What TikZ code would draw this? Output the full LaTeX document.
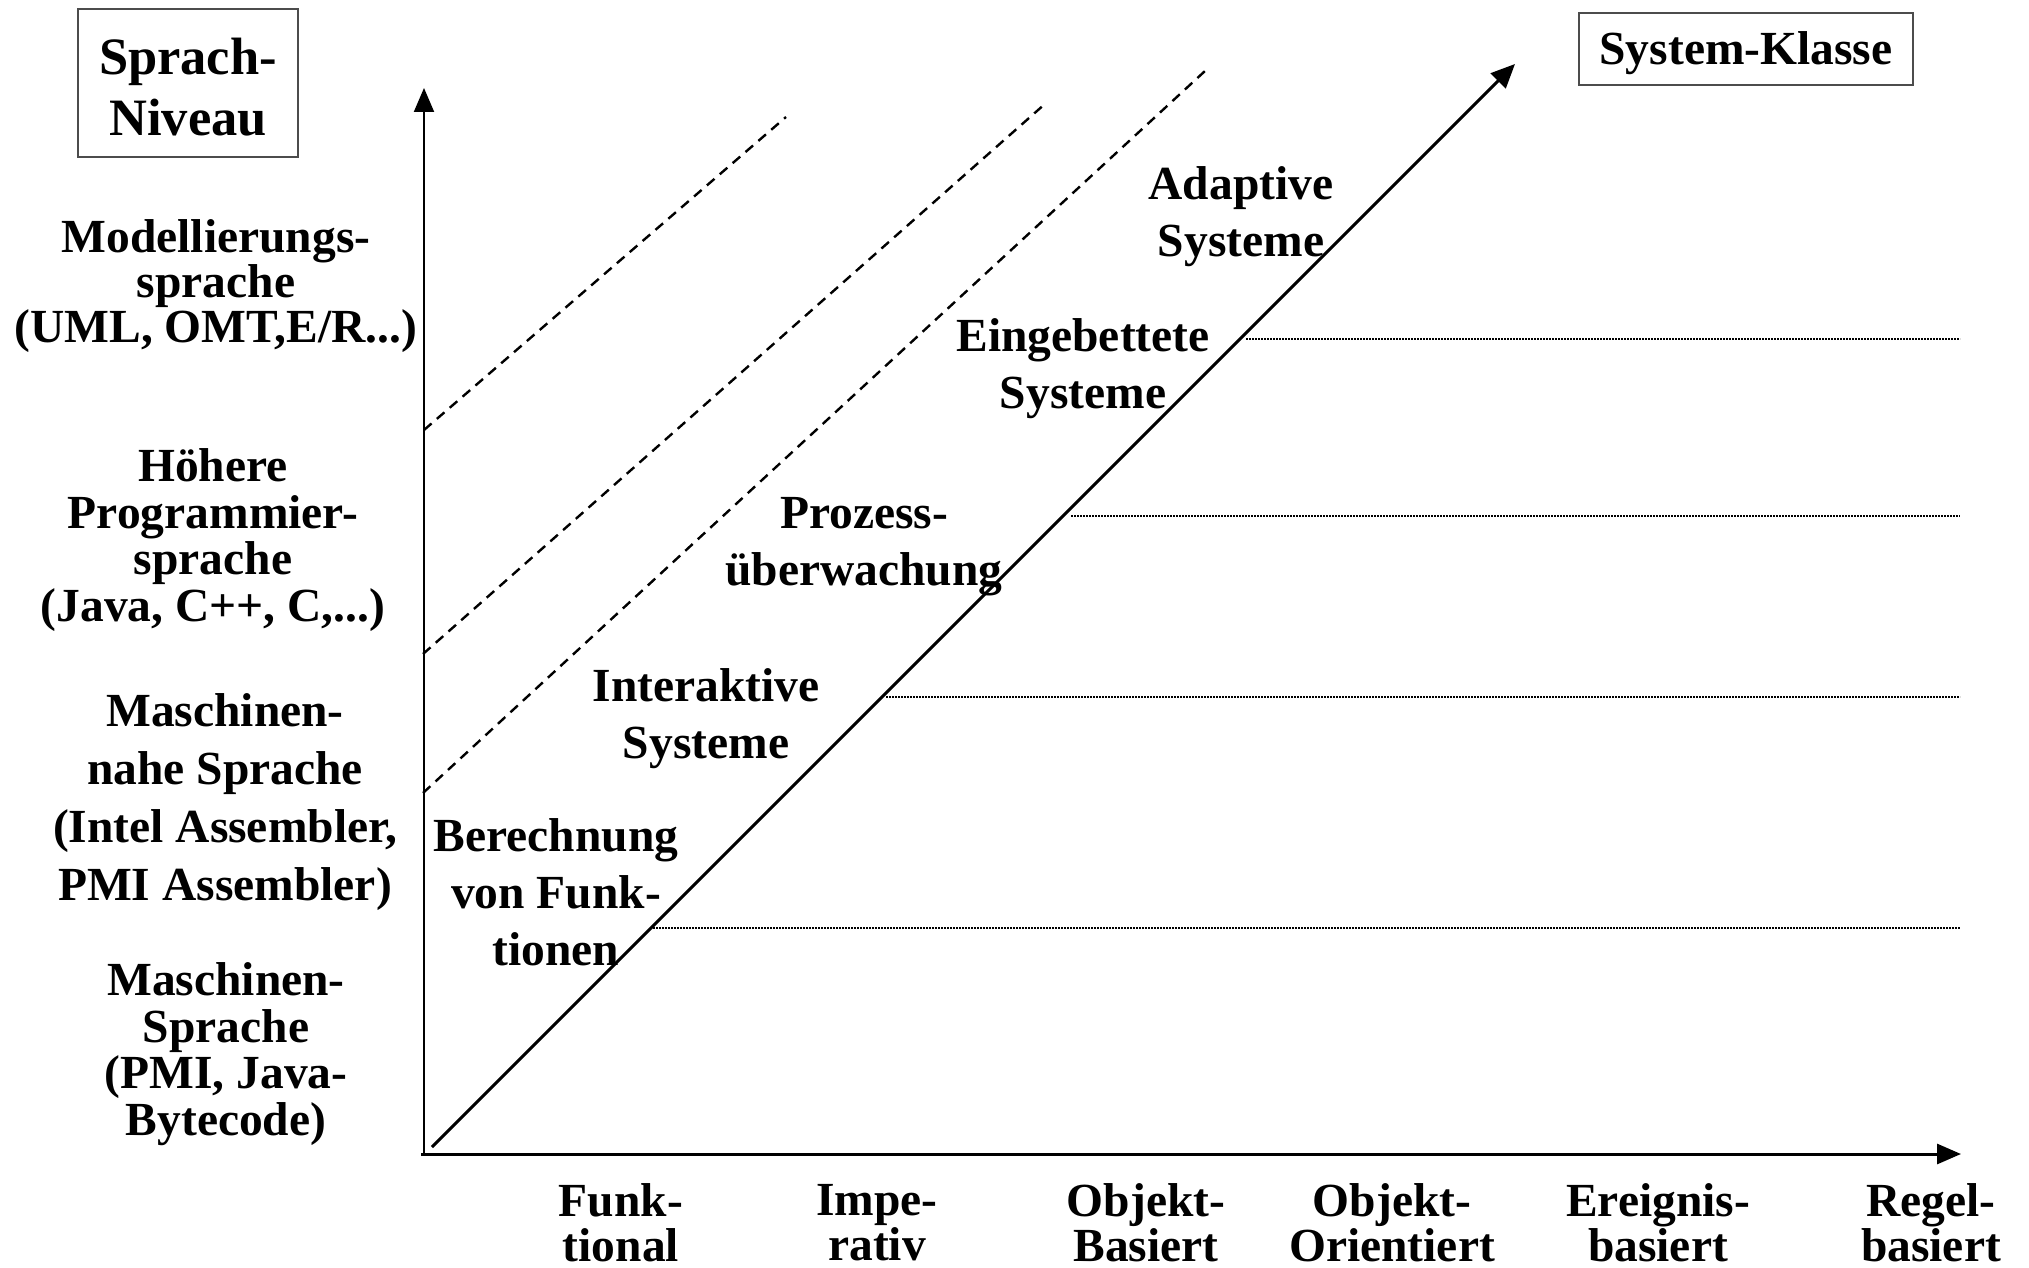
\documentclass[tikz,border=0pt]{standalone}
\usepackage{fontspec}
\setmainfont{Liberation Serif}
\usetikzlibrary{arrows.meta}

\tikzset{
  lbl/.style={font=\bfseries\fontsize{47.5}{#1}\selectfont, align=center, inner sep=0pt},
  titlebox/.style={draw=black!70, line width=1.5pt, inner sep=0pt, align=center},
  axis/.style={line width=#1, -{Triangle[length=24pt,width=20pt]}},
  mainarrow/.style={line width=3pt, -{Triangle[length=24pt,width=21pt]}},
  levelline/.style={line width=2.4pt, dash pattern=on 10pt off 7pt},
  classline/.style={line width=1.6pt, dash pattern=on 1.6pt off 1.4pt},
}

\begin{document}
\begin{tikzpicture}[x=1pt,y=-1pt]
\useasboundingbox (0,0) rectangle (2029,1268);

% axes
\coordinate (origin) at (424,1154);
\coordinate (ytop) at (424,88);
\coordinate (xleft) at (421,1154);
\coordinate (xend) at (1961,1154);
\draw[axis=2pt] (origin) -- (ytop);
\draw[axis=3pt] (xleft) -- (xend);

% boundaries between language levels
\coordinate (l1a) at (424,430);  \coordinate (l1b) at (786,117);
\coordinate (l2a) at (423,654);  \coordinate (l2b) at (1046,103);
\coordinate (l3a) at (423,793);  \coordinate (l3b) at (1205,71);
\draw[levelline] (l1a) -- (l1b);
\draw[levelline] (l2a) -- (l2b);
\draw[levelline] (l3a) -- (l3b);

% system classes along the diagonal
\coordinate (dstart) at (432,1147);
\coordinate (dend) at (1515,64);
\draw[mainarrow] (dstart) -- (dend);

\coordinate (c1a) at (653,928);  \coordinate (c1b) at (1960,928);
\coordinate (c2a) at (886,697);  \coordinate (c2b) at (1960,697);
\coordinate (c3a) at (1071,516); \coordinate (c3b) at (1960,516);
\coordinate (c4a) at (1246,339); \coordinate (c4b) at (1960,339);
\draw[classline] (c1a) -- (c1b);
\draw[classline] (c2a) -- (c2b);
\draw[classline] (c3a) -- (c3b);
\draw[classline] (c4a) -- (c4b);

% axis titles
\node[titlebox, minimum width=220pt, minimum height=148pt,
      font=\bfseries\fontsize{52.5}{61}\selectfont] (ytitle) at (188,83) {};
\node[font=\bfseries\fontsize{52.5}{61}\selectfont, align=center, inner sep=0pt]
      (ytitletext) at (188,87) {Sprach-\\Niveau};
\node[titlebox, minimum width=334pt, minimum height=72pt] (xtitle) at (1746,49) {};
\node[font=\bfseries\fontsize{47.5}{50}\selectfont, inner sep=0pt]
      (xtitletext) at (1746,53) {System-Klasse};

% language levels
\node[lbl=45] (modell) at (216,286) {Modellierungs-\\sprache\\(UML, OMT,E/R...)};
\node[lbl=46.6] (hoehere) at (213,540) {Höhere\\Programmier-\\sprache\\(Java, C++, C,...)};
\node[lbl=58] (masnah) at (225,802) {Maschinen-\\nahe Sprache\\(Intel Assembler,\\PMI Assembler)};
\node[lbl=46.6] (masch) at (226,1054) {Maschinen-\\Sprache\\(PMI, Java-\\Bytecode)};

% system classes
\node[lbl=57] (berech) at (556,892) {Berechnung\\von Funk-\\tionen};
\node[lbl=57] (inter) at (706,719) {Interaktive\\Systeme};
\node[lbl=57] (prozess) at (864,547) {Prozess-\\überwachung};
\node[lbl=57] (eing) at (1083,369) {Eingebettete\\Systeme};
\node[lbl=57] (adapt) at (1241,217) {Adaptive\\Systeme};

% paradigms
\node[lbl=45] (funk) at (621,1223) {Funk-\\tional};
\node[lbl=45] (impe) at (877,1223) {Impe-\\rativ};
\node[lbl=45] (objb) at (1146,1223) {Objekt-\\Basiert};
\node[lbl=45] (objo) at (1392,1223) {Objekt-\\Orientiert};
\node[lbl=45] (ereig) at (1658,1223) {Ereignis-\\basiert};
\node[lbl=45] (regel) at (1931,1223) {Regel-\\basiert};
\end{tikzpicture}
\end{document}
